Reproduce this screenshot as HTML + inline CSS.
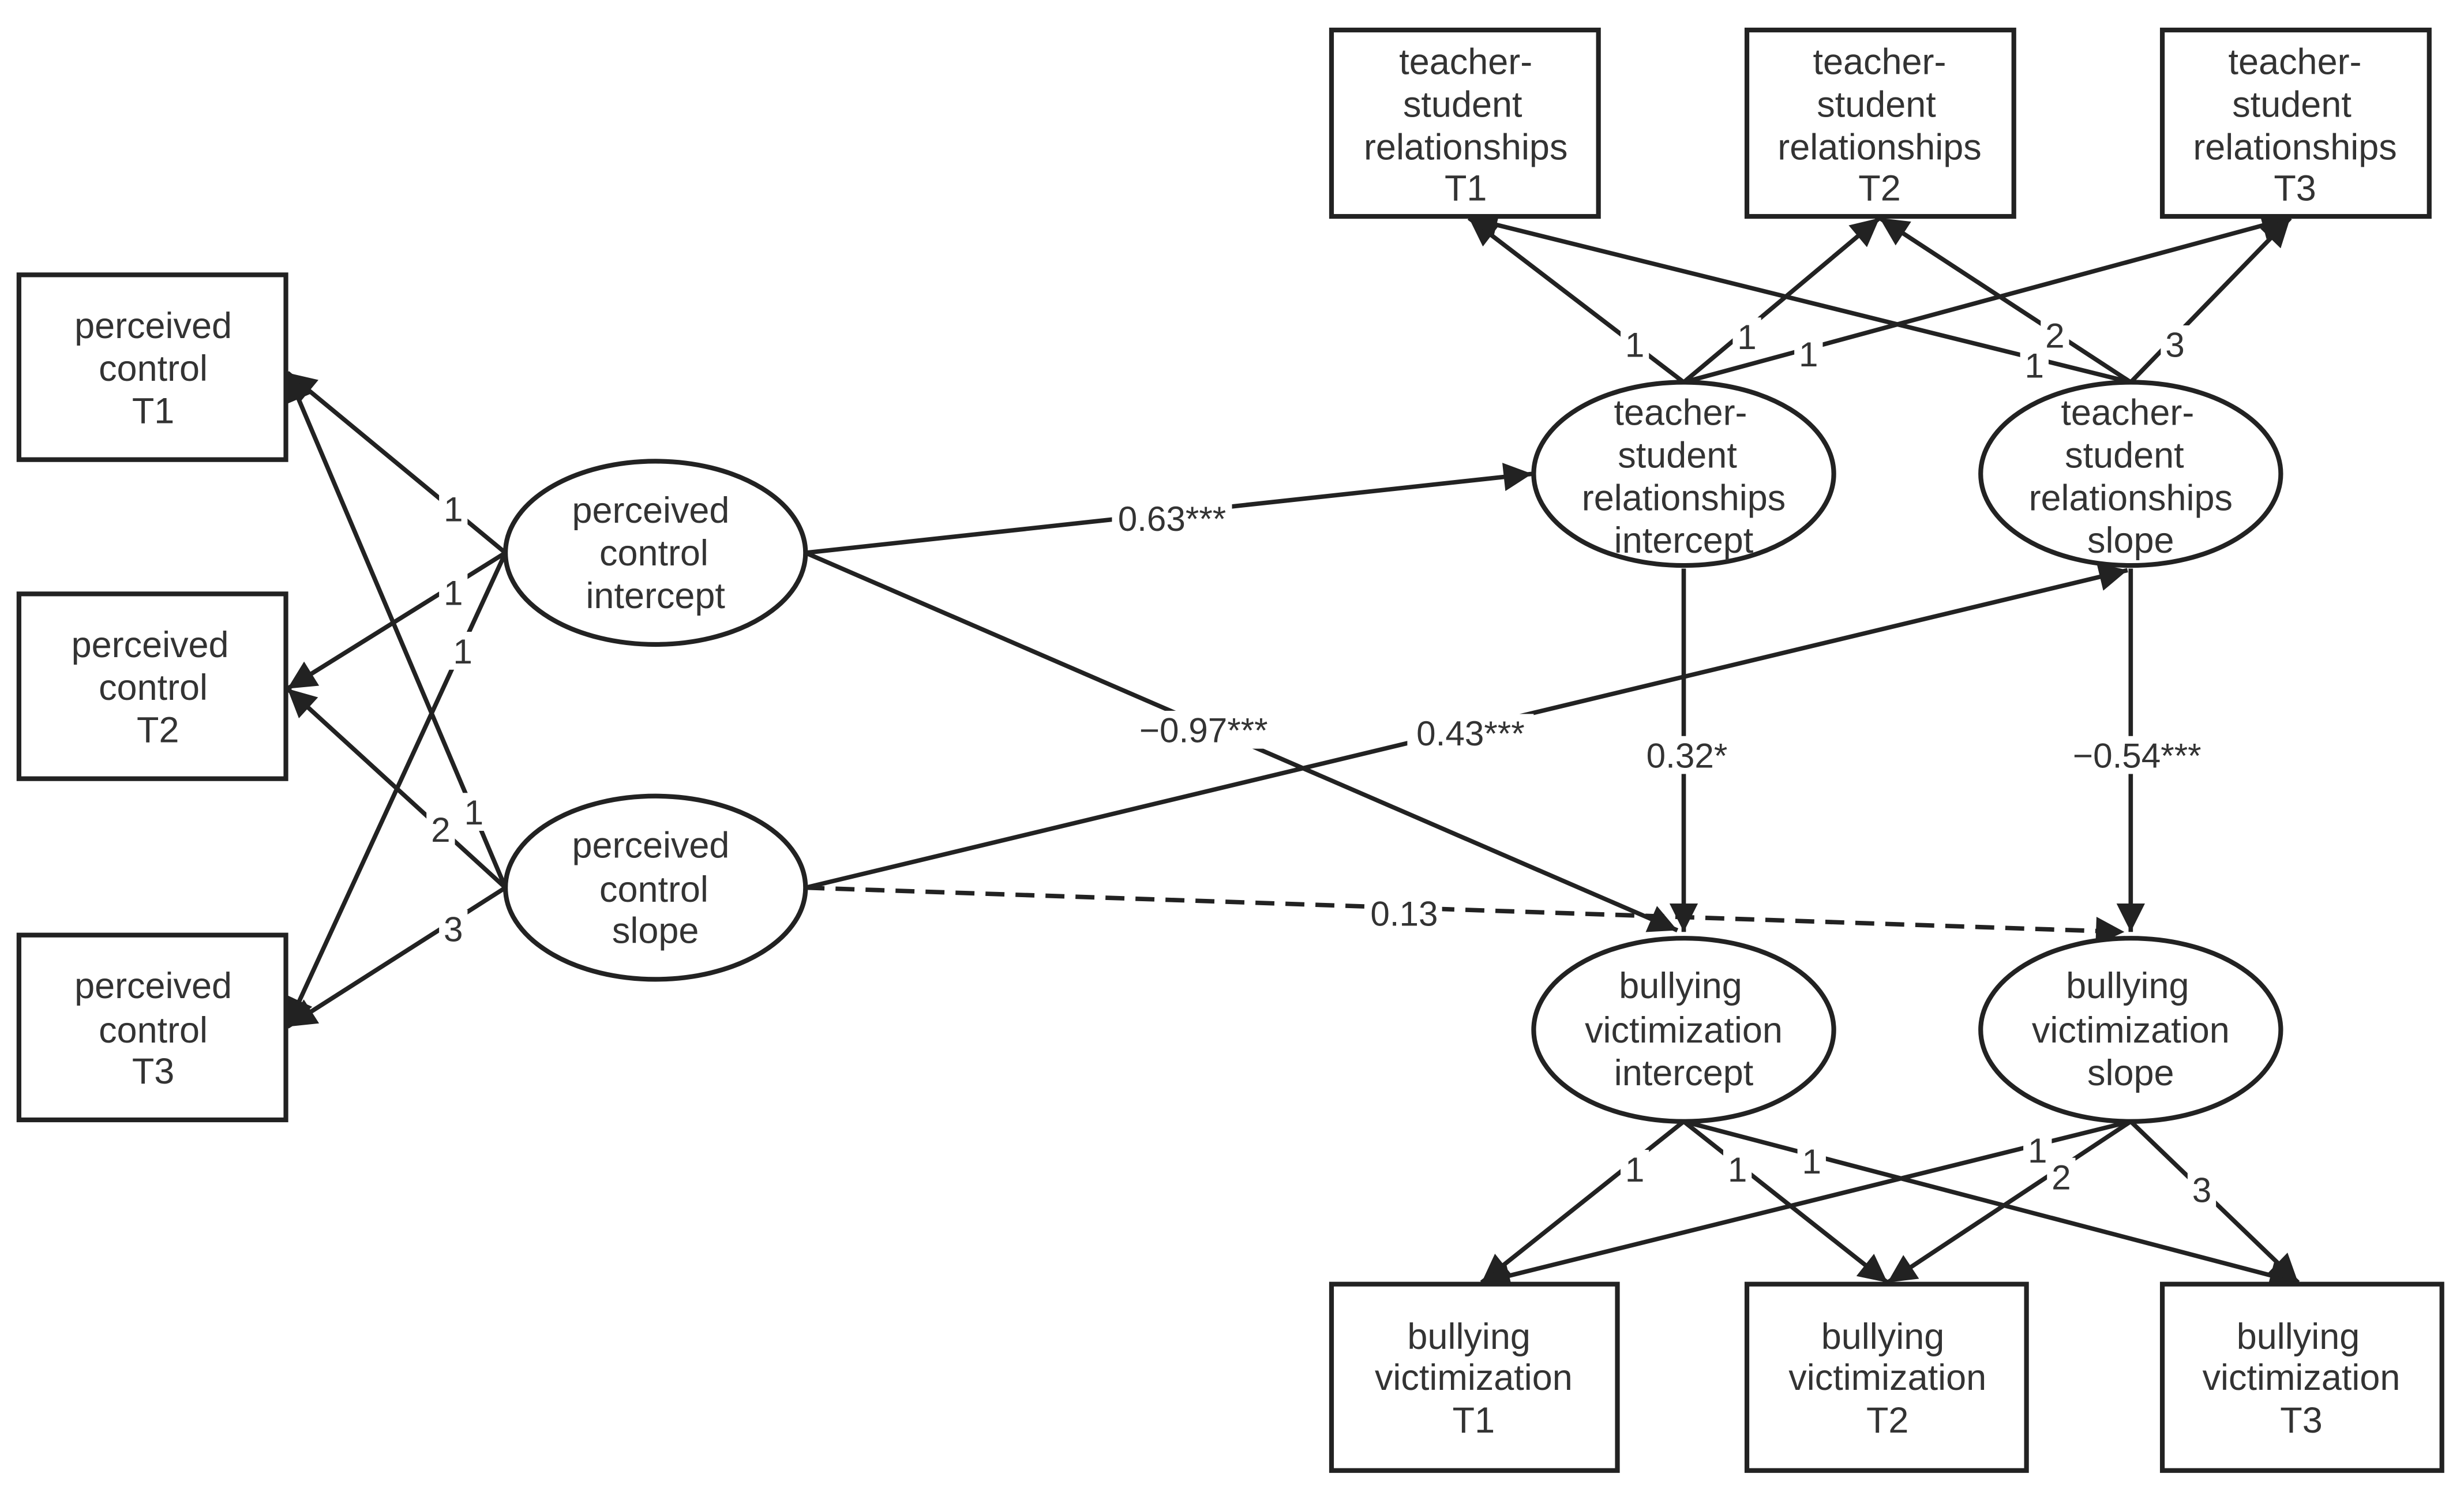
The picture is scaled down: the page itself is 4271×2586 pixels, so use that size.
<!DOCTYPE html>
<html><head><meta charset="utf-8"><style>html,body{margin:0;padding:0;background:#fff}svg{display:block}</style></head>
<body>
<svg xmlns="http://www.w3.org/2000/svg" width="4271" height="2586" viewBox="0 0 1560 944.6" preserveAspectRatio="none">
<defs>
<marker id="b" viewBox="0 0 10 10" refX="10" refY="5" markerWidth="24" markerHeight="18" markerUnits="userSpaceOnUse" orient="auto">
<path d="M0,0 L10,5 L0,10 z" fill="#222"/></marker>
</defs>
<g stroke="#222" stroke-width="2.8" fill="none" marker-end="url(#b)">
<line x1="320" y1="350" x2="182" y2="236"/>
<line x1="320" y1="350" x2="182" y2="436"/>
<line x1="320" y1="350" x2="182" y2="650"/>
<line x1="320" y1="562" x2="182" y2="236"/>
<line x1="320" y1="562" x2="182" y2="436"/>
<line x1="320" y1="562" x2="182" y2="650"/>
<line x1="510" y1="350" x2="970" y2="300"/>
<line x1="510" y1="350" x2="1062" y2="589"/>
<line x1="510" y1="562" x2="1347" y2="361"/>
<line x1="510" y1="562" x2="1345" y2="590" stroke-dasharray="12,7"/>
<line x1="1066" y1="360" x2="1066" y2="590"/>
<line x1="1349" y1="360" x2="1349" y2="590"/>
<line x1="1066" y1="242" x2="930" y2="138"/>
<line x1="1066" y1="242" x2="1190" y2="138"/>
<line x1="1066" y1="242" x2="1450" y2="138"/>
<line x1="1349" y1="242" x2="930" y2="138"/>
<line x1="1349" y1="242" x2="1190" y2="138"/>
<line x1="1349" y1="242" x2="1450" y2="138"/>
<line x1="1066" y1="710" x2="938" y2="812"/>
<line x1="1066" y1="710" x2="1195" y2="812"/>
<line x1="1066" y1="710" x2="1455" y2="812"/>
<line x1="1349" y1="710" x2="938" y2="812"/>
<line x1="1349" y1="710" x2="1195" y2="812"/>
<line x1="1349" y1="710" x2="1455" y2="812"/>
</g>
<g stroke="#222" stroke-width="3" fill="#fff">
<rect x="12" y="174" width="169" height="117"/>
<rect x="12" y="376" width="169" height="117"/>
<rect x="12" y="592" width="169" height="117"/>
<rect x="843" y="19" width="169" height="118"/>
<rect x="1106" y="19" width="169" height="118"/>
<rect x="1369" y="19" width="169" height="118"/>
<rect x="843" y="813" width="181" height="118"/>
<rect x="1106" y="813" width="177" height="118"/>
<rect x="1369" y="813" width="177" height="118"/>
<ellipse cx="415" cy="350" rx="95" ry="58"/>
<ellipse cx="415" cy="562" rx="95" ry="58"/>
<ellipse cx="1066" cy="300" rx="95" ry="58"/>
<ellipse cx="1349" cy="300" rx="95" ry="58"/>
<ellipse cx="1066" cy="652" rx="95" ry="58"/>
<ellipse cx="1349" cy="652" rx="95" ry="58"/>
</g>
<g font-family="Liberation Sans, DejaVu Sans, sans-serif" font-size="23" fill="#333" text-anchor="middle">
<text x="97" y="214">perceived</text><text x="97" y="241">control</text><text x="97" y="268">T1</text>
<text x="95" y="416">perceived</text><text x="97" y="443">control</text><text x="100" y="470">T2</text>
<text x="97" y="632">perceived</text><text x="97" y="660">control</text><text x="97" y="686">T3</text>
<text x="928" y="47">teacher-</text><text x="926" y="74">student</text><text x="928" y="101">relationships</text><text x="928" y="127">T1</text>
<text x="1190" y="47">teacher-</text><text x="1188" y="74">student</text><text x="1190" y="101">relationships</text><text x="1190" y="127">T2</text>
<text x="1453" y="47">teacher-</text><text x="1451" y="74">student</text><text x="1453" y="101">relationships</text><text x="1453" y="127">T3</text>
<text x="930" y="854">bullying</text><text x="933" y="880">victimization</text><text x="933" y="907">T1</text>
<text x="1192" y="854">bullying</text><text x="1195" y="880">victimization</text><text x="1195" y="907">T2</text>
<text x="1455" y="854">bullying</text><text x="1457" y="880">victimization</text><text x="1457" y="907">T3</text>
<text x="412" y="331">perceived</text><text x="414" y="358">control</text><text x="415" y="385">intercept</text>
<text x="412" y="543">perceived</text><text x="414" y="571">control</text><text x="415" y="597">slope</text>
<text x="1064" y="269">teacher-</text><text x="1062" y="296">student</text><text x="1066" y="323">relationships</text><text x="1066" y="350">intercept</text>
<text x="1347" y="269">teacher-</text><text x="1345" y="296">student</text><text x="1349" y="323">relationships</text><text x="1349" y="350">slope</text>
<text x="1064" y="632">bullying</text><text x="1066" y="660">victimization</text><text x="1066" y="687">intercept</text>
<text x="1347" y="632">bullying</text><text x="1349" y="660">victimization</text><text x="1349" y="687">slope</text>
</g>
<g font-family="Liberation Sans, DejaVu Sans, sans-serif" font-size="22" fill="#333" text-anchor="middle">
<g fill="#fff"><rect x="278" y="310" width="18" height="24"/><rect x="278" y="363" width="18" height="24"/><rect x="284" y="400" width="18" height="24"/>
<rect x="291" y="502" width="18" height="24"/><rect x="270" y="513" width="18" height="24"/><rect x="278" y="576" width="18" height="24"/>
<rect x="704" y="316" width="76" height="24"/><rect x="715" y="450" width="94" height="24"/><rect x="891" y="452" width="80" height="24"/>
<rect x="865" y="566" width="48" height="24"/><rect x="1039" y="466" width="58" height="24"/><rect x="1307" y="466" width="92" height="24"/>
<rect x="1026" y="206" width="18" height="24"/><rect x="1097" y="201" width="18" height="24"/><rect x="1136" y="212" width="18" height="24"/>
<rect x="1279" y="219" width="18" height="24"/><rect x="1292" y="200" width="18" height="24"/><rect x="1368" y="206" width="18" height="24"/>
<rect x="1026" y="728" width="18" height="24"/><rect x="1091" y="728" width="18" height="24"/><rect x="1138" y="723" width="18" height="24"/>
<rect x="1281" y="716" width="18" height="24"/><rect x="1296" y="733" width="18" height="24"/><rect x="1385" y="741" width="18" height="24"/></g>
<text x="287" y="330">1</text><text x="287" y="383">1</text><text x="293" y="420">1</text>
<text x="300" y="522">1</text><text x="279" y="533">2</text><text x="287" y="596">3</text>
<text x="742" y="336">0.63***</text><text x="762" y="470">−0.97***</text><text x="931" y="472">0.43***</text>
<text x="889" y="586">0.13</text><text x="1068" y="486">0.32*</text><text x="1353" y="486">−0.54***</text>
<text x="1035" y="226">1</text><text x="1106" y="221">1</text><text x="1145" y="232">1</text>
<text x="1288" y="239">1</text><text x="1301" y="220">2</text><text x="1377" y="226">3</text>
<text x="1035" y="748">1</text><text x="1100" y="748">1</text><text x="1147" y="743">1</text>
<text x="1290" y="736">1</text><text x="1305" y="753">2</text><text x="1394" y="761">3</text>
</g>
</svg>
</body></html>
